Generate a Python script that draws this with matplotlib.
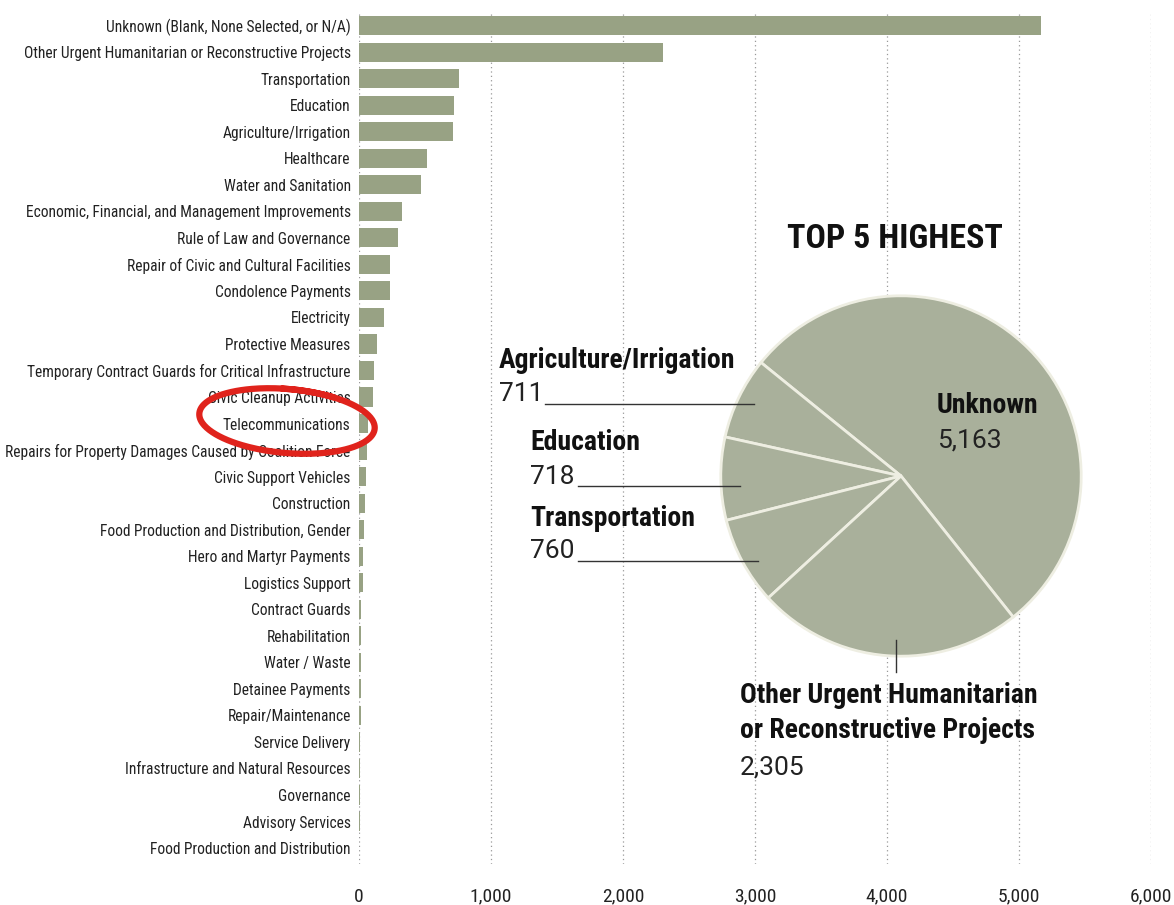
import numpy as np
import matplotlib
matplotlib.use("Agg")
import matplotlib.pyplot as plt
from matplotlib import font_manager as fm
from matplotlib.lines import Line2D

names = {f.name for f in fm.fontManager.ttflist}
COND = next((n for n in ["Roboto Condensed", "PT Sans Narrow", "Archivo Narrow",
                         "Fira Sans Condensed"] if n in names), "DejaVu Sans")
NUMF = "Roboto" if "Roboto" in names else COND
plt.rcParams['font.family'] = [COND, 'DejaVu Sans']

categories = [
    "Unknown (Blank, None Selected, or N/A)",
    "Other Urgent Humanitarian or Reconstructive Projects",
    "Transportation",
    "Education",
    "Agriculture/Irrigation",
    "Healthcare",
    "Water and Sanitation",
    "Economic, Financial, and Management Improvements",
    "Rule of Law and Governance",
    "Repair of Civic and Cultural Facilities",
    "Condolence Payments",
    "Electricity",
    "Protective Measures",
    "Temporary Contract Guards for Critical Infrastructure",
    "Civic Cleanup Activities",
    "Telecommunications",
    "Repairs for Property Damages Caused by Coalition Force",
    "Civic Support Vehicles",
    "Construction",
    "Food Production and Distribution, Gender",
    "Hero and Martyr Payments",
    "Logistics Support",
    "Contract Guards",
    "Rehabilitation",
    "Water / Waste",
    "Detainee Payments",
    "Repair/Maintenance",
    "Service Delivery",
    "Infrastructure and Natural Resources",
    "Governance",
    "Advisory Services",
    "Food Production and Distribution",
]
values = [5163, 2305, 760, 718, 711, 515, 467, 326, 293, 237, 235, 192, 134,
          116, 104, 70, 58, 53, 43, 41, 33, 28, 15, 15, 14, 13, 12, 8, 7, 5, 4, 2]
xticks = [0, 1000, 2000, 3000, 4000, 5000, 6000]
xticklabels = ["0", "1,000", "2,000", "3,000", "4,000", "5,000", "6,000"]

pie_labels = ["Unknown", "Agriculture/Irrigation", "Education", "Transportation",
              "Other Urgent Humanitarian\nor Reconstructive Projects"]
pie_values = [5163, 711, 718, 760, 2305]
pie_value_text = ["5,163", "711", "718", "760", "2,305"]

W, H = 1174, 905
fig = plt.figure(figsize=(W / 100, H / 100), dpi=100)

BAR = "#98a284"
PIE = "#a9b09b"

# bar axes
ax = fig.add_axes([359 / W, 1 - 864 / H, (1151 - 359) / W, (864 - 11) / H])
y = list(range(len(categories)))
ax.barh(y, values, height=0.72, color=BAR, zorder=2)
ax.set_ylim(len(categories) - 0.4, -0.55)
ax.set_xlim(0, 6000)
ax.set_yticks(y)
ax.set_yticklabels(categories, fontsize=11.2, color="#222222")
ax.set_xticks(xticks)
ax.set_xticklabels(xticklabels, fontsize=14, color="#222222")
ax.tick_params(axis="both", length=0)
ax.tick_params(axis="y", pad=6)
ax.tick_params(axis="x", pad=17)
for s in ax.spines.values():
    s.set_visible(False)
for xv in xticks:
    ax.axvline(xv, color="#999999", lw=0.9, ls=(0, (1, 2.5)), zorder=1)

# pie axes
cx, cy, r = 901, 476, 182
pax = fig.add_axes([(cx - r) / W, 1 - (cy + r) / H, 2 * r / W, 2 * r / H])
pax.pie(pie_values, startangle=-51.5, counterclock=True, colors=[PIE] * 5,
        wedgeprops=dict(edgecolor="#eeeee2", linewidth=2))
pax.set_xlim(-1.01, 1.01)
pax.set_ylim(-1.01, 1.01)
pax.set_aspect("equal")
pax.axis("off")

# overlay for annotations in pixel coordinates
ov = fig.add_axes([0, 0, 1, 1], zorder=10)
ov.set_xlim(0, W)
ov.set_ylim(H, 0)
ov.axis("off")

ov.text(895, 239, "TOP 5 HIGHEST", fontsize=24.5, fontweight="bold",
        ha="center", va="center", color="#111111")

lab_kw = dict(fontsize=20, fontweight="bold", color="#111111", va="center", ha="left")
num_kw = dict(fontsize=19, color="#222222", va="center", ha="left",
              family=[NUMF, "DejaVu Sans"])

ov.text(937, 405, pie_labels[0], **lab_kw)
ov.text(937, 440, pie_value_text[0], **num_kw)

ov.text(499, 360, pie_labels[1], **lab_kw)
ov.text(499, 394, pie_value_text[1], **num_kw)
ov.add_line(Line2D([545, 754], [404, 404], color="#333333", lw=1))

ov.text(530, 442, pie_labels[2], **lab_kw)
ov.text(530, 477, pie_value_text[2], **num_kw)
ov.add_line(Line2D([578, 740], [486, 486], color="#333333", lw=1))

ov.text(530, 518, pie_labels[3], **lab_kw)
ov.text(530, 551, pie_value_text[3], **num_kw)
ov.add_line(Line2D([578, 758], [561, 561], color="#333333", lw=1))

ov.text(740, 713, pie_labels[4], fontsize=20, fontweight="bold", color="#111111",
        va="center", ha="left", linespacing=1.4)
ov.text(740, 767, pie_value_text[4], **num_kw)
ov.add_line(Line2D([896, 896], [640, 672], color="#333333", lw=1))

# red hand-drawn loop around Telecommunications
t = np.radians(np.linspace(-95, 300, 300))
phi = np.radians(5)
ea, eb, ecx, ecy = 88, 32, 287, 421
ex = ecx + ea * np.cos(t) * np.cos(phi) - eb * np.sin(t) * np.sin(phi)
ey = ecy + ea * np.cos(t) * np.sin(phi) + eb * np.sin(t) * np.cos(phi)
ov.plot(ex, ey, color="#e0231c", lw=4.5, solid_capstyle="round", zorder=11)

fig.savefig("out.png", dpi=100)
